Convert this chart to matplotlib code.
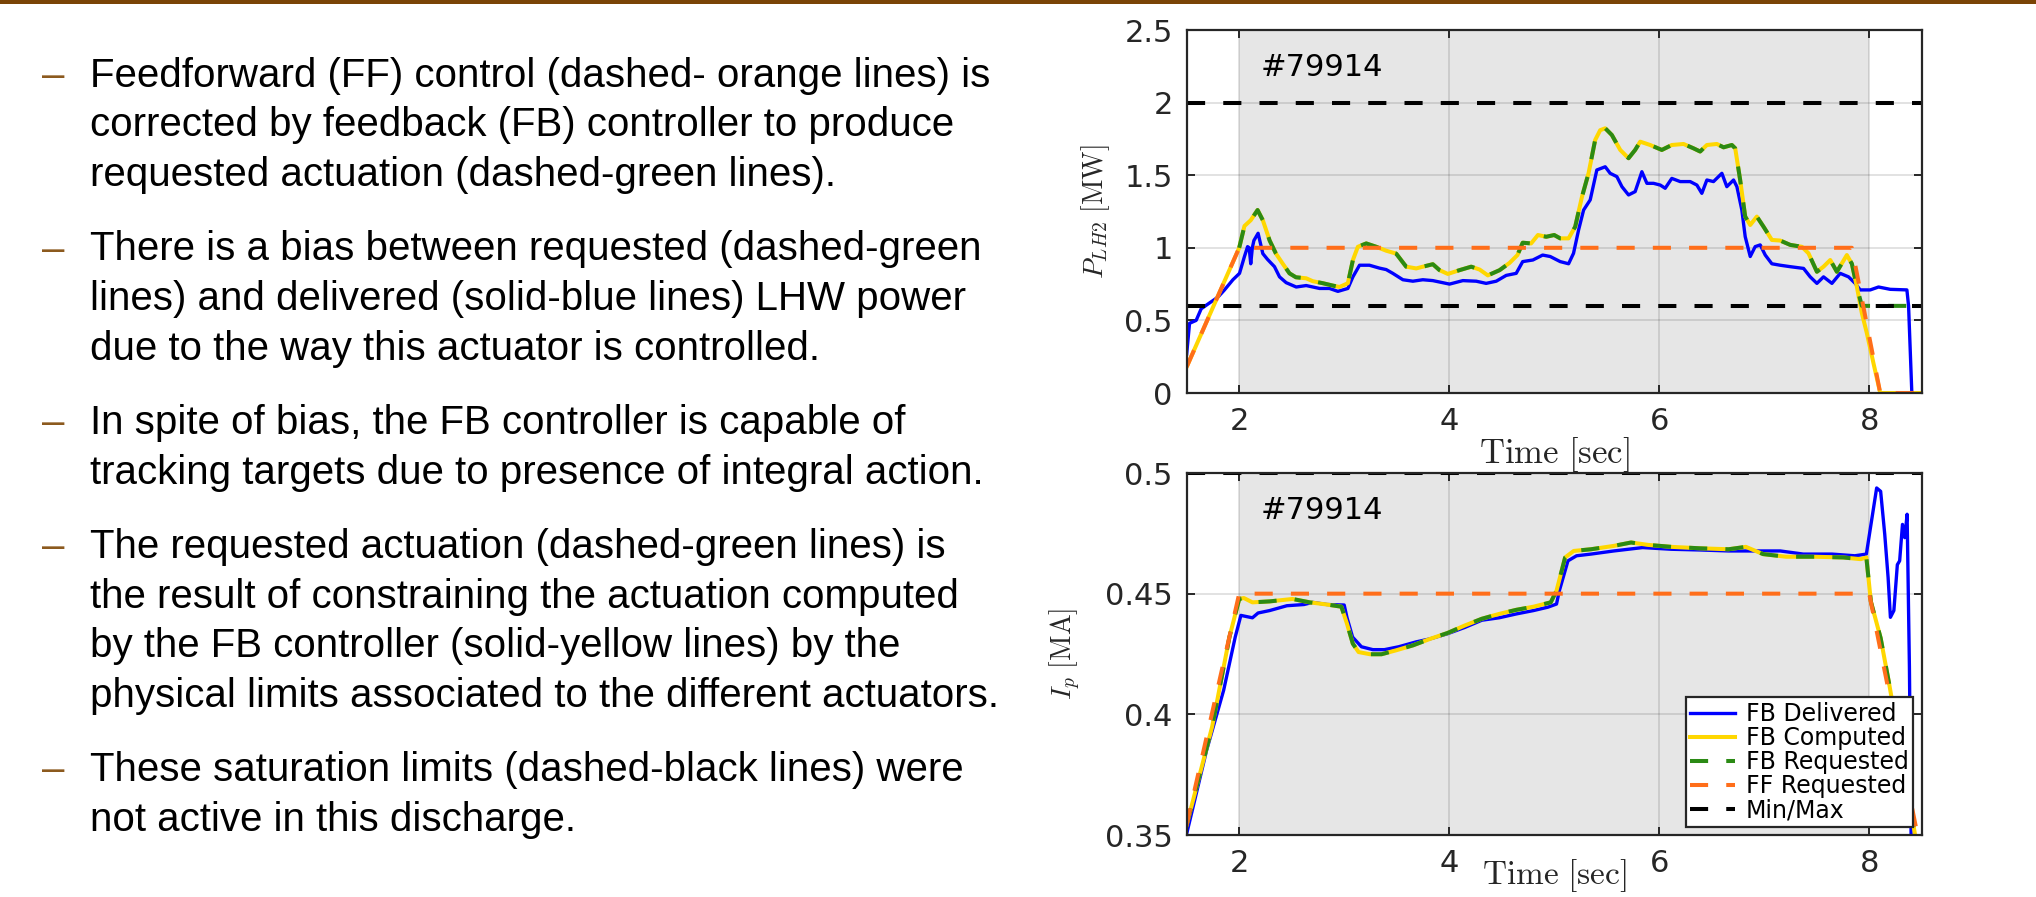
import matplotlib
matplotlib.use("Agg")
import matplotlib.pyplot as plt
from matplotlib.patches import Rectangle

plt.rcParams["mathtext.fontset"] = "cm"

##
# Data
##

# top panel: LHW power P_LH2 [MW]
t_del_top = [1.50, 1.527, 1.59, 1.638, 1.717, 1.797, 1.86, 1.94, 2.003, 2.05,
             2.08, 2.095, 2.11, 2.125, 2.14, 2.18, 2.225, 2.27, 2.336, 2.384,
             2.447, 2.543, 2.638, 2.765, 2.86, 2.94, 3.035, 3.083, 3.146, 3.24,
             3.336, 3.40, 3.463, 3.559, 3.654, 3.749, 3.844, 4.003, 4.13, 4.257,
             4.352, 4.448, 4.543, 4.638, 4.70, 4.797, 4.89, 4.962, 5.057, 5.137,
             5.184, 5.232, 5.28, 5.343, 5.406, 5.486, 5.533, 5.597, 5.645, 5.708,
             5.771, 5.835, 5.883, 5.946, 6.01, 6.057, 6.12, 6.2, 6.295, 6.359,
             6.406, 6.454, 6.517, 6.597, 6.644, 6.708, 6.74, 6.787, 6.819, 6.867,
             6.914, 6.962, 7.01, 7.073, 7.152, 7.248, 7.375, 7.438, 7.502, 7.565,
             7.645, 7.724, 7.803, 7.867, 7.914, 8.01, 8.089, 8.2, 8.359, 8.375,
             8.406]
p_del_top = [0.27, 0.48, 0.50, 0.58, 0.62, 0.66, 0.71, 0.78, 0.824, 0.94,
             1.008, 1.0, 0.89, 1.0, 1.05, 1.10, 0.96, 0.92, 0.87, 0.80,
             0.76, 0.73, 0.74, 0.72, 0.72, 0.70, 0.72, 0.80, 0.88, 0.88,
             0.86, 0.85, 0.824, 0.78, 0.77, 0.78, 0.774, 0.75, 0.774, 0.77,
             0.755, 0.77, 0.81, 0.824, 0.905, 0.916, 0.95, 0.94, 0.905, 0.89,
             0.962, 1.122, 1.26, 1.33, 1.536, 1.558, 1.513, 1.49, 1.421, 1.364,
             1.387, 1.524, 1.444, 1.444, 1.432, 1.41, 1.478, 1.456, 1.456, 1.432,
             1.375, 1.467, 1.456, 1.513, 1.421, 1.467, 1.421, 1.26, 1.077, 0.94,
             1.008, 1.02, 0.95, 0.89, 0.88, 0.87, 0.858, 0.80, 0.755, 0.80,
             0.755, 0.824, 0.80, 0.755, 0.71, 0.71, 0.73, 0.714, 0.71, 0.6,
             0.0]

t_comp_top = [1.50, 2.0, 2.05, 2.11, 2.175, 2.225, 2.29, 2.35, 2.415, 2.479,
              2.54, 2.638, 2.70, 2.797, 2.89, 2.955, 3.035, 3.083, 3.13, 3.21,
              3.305, 3.40, 3.495, 3.59, 3.686, 3.75, 3.844, 3.908, 3.987, 4.098,
              4.21, 4.29, 4.368, 4.48, 4.575, 4.65, 4.70, 4.78, 4.845, 4.924,
              5.0, 5.057, 5.137, 5.2, 5.264, 5.327, 5.39, 5.438, 5.486, 5.549,
              5.629, 5.708, 5.771, 5.819, 5.914, 6.025, 6.12, 6.232, 6.327, 6.39,
              6.454, 6.549, 6.613, 6.692, 6.724, 6.771, 6.819, 6.867, 6.93, 6.994,
              7.073, 7.152, 7.248, 7.359, 7.422, 7.502, 7.565, 7.629, 7.692, 7.787,
              7.835, 7.883, 7.93, 7.978, 8.041, 8.105, 8.50]
p_comp_top = [0.18, 1.0, 1.15, 1.19, 1.26, 1.19, 1.05, 0.96, 0.89, 0.824,
              0.797, 0.79, 0.77, 0.756, 0.74, 0.73, 0.756, 0.916, 1.007, 1.03,
              1.007, 0.98, 0.96, 0.87, 0.858, 0.87, 0.887, 0.846, 0.82, 0.846,
              0.87, 0.85, 0.81, 0.846, 0.896, 0.95, 1.035, 1.03, 1.088, 1.076,
              1.088, 1.065, 1.065, 1.145, 1.35, 1.513, 1.742, 1.81, 1.823, 1.777,
              1.674, 1.617, 1.674, 1.731, 1.708, 1.674, 1.708, 1.715, 1.685, 1.663,
              1.708, 1.715, 1.692, 1.708, 1.685, 1.467, 1.215, 1.157, 1.215, 1.145,
              1.054, 1.05, 1.02, 1.007, 0.962, 0.835, 0.87, 0.916, 0.835, 0.95,
              0.89, 0.73, 0.55, 0.411, 0.204, 0.0, 0.0]

# requested follows computed from 2 s on, then sits on the lower limit
req_tail_t_top = [7.93, 8.42]
req_tail_top = [0.6, 0.6]

t_ff_top = [1.50, 2.0, 7.835, 8.105, 8.50]
p_ff_top = [0.18, 1.0, 1.0, 0.0, 0.0]
limits_top = [0.6, 2.0]

# bottom panel: plasma current I_p [MA]
t_del_bot = [1.497, 1.689, 1.852, 1.962, 2.016, 2.126, 2.18, 2.29, 2.454, 2.617,
             2.70, 2.836, 3.0, 3.027, 3.08, 3.164, 3.273, 3.383, 3.519, 3.683,
             3.82, 3.984, 4.148, 4.311, 4.475, 4.639, 4.803, 4.94, 5.022, 5.049,
             5.131, 5.213, 5.35, 5.568, 5.842, 6.115, 6.388, 6.661, 6.934, 7.153,
             7.372, 7.645, 7.863, 7.973, 8.027, 8.071, 8.109, 8.148, 8.18, 8.202,
             8.235, 8.268, 8.29, 8.317, 8.339, 8.361, 8.383, 8.399]
ip_del_bot = [0.350, 0.385, 0.410, 0.432, 0.441, 0.440, 0.442, 0.443, 0.445, 0.4455,
              0.4464, 0.4455, 0.4453, 0.440, 0.432, 0.428, 0.4268, 0.4268, 0.428, 0.430,
              0.4313, 0.4334, 0.436, 0.439, 0.440, 0.4416, 0.443, 0.4444, 0.4457, 0.4512,
              0.4636, 0.4657, 0.4664, 0.4677, 0.4691, 0.4684, 0.4681, 0.4677, 0.4677, 0.4677,
              0.4664, 0.4664, 0.4657, 0.4664, 0.4815, 0.4938, 0.4924, 0.4746, 0.4567, 0.4402,
              0.443, 0.462, 0.4636, 0.4787, 0.4732, 0.4829, 0.4196, 0.35]

t_comp_bot = [1.497, 1.743, 1.907, 2.0, 2.044, 2.126, 2.29, 2.508, 2.672, 2.836,
              2.973, 3.027, 3.082, 3.137, 3.246, 3.355, 3.492, 3.656, 3.82, 3.984,
              4.148, 4.311, 4.475, 4.639, 4.803, 4.967, 5.022, 5.104, 5.186, 5.35,
              5.568, 5.732, 5.896, 6.115, 6.388, 6.661, 6.825, 6.989, 7.208, 7.481,
              7.754, 7.918, 7.973, 8.016, 8.109, 8.191, 8.355, 8.437]
ip_comp_bot = [0.3537, 0.395, 0.432, 0.4478, 0.4482, 0.4464, 0.4468, 0.4478, 0.4464, 0.4455,
               0.4446, 0.4375, 0.4293, 0.4258, 0.4249, 0.4249, 0.4265, 0.4286, 0.4313, 0.4337,
               0.4368, 0.4396, 0.4416, 0.4433, 0.4446, 0.4464, 0.4512, 0.465, 0.4677, 0.4684,
               0.4698, 0.4712, 0.4702, 0.4694, 0.4688, 0.4684, 0.4694, 0.4664, 0.4653, 0.4653,
               0.465, 0.4643, 0.465, 0.4467, 0.4316, 0.4124, 0.3716, 0.35]

t_ff_bot = [1.497, 2.0, 8.0, 8.46]
ip_ff_bot = [0.3537, 0.45, 0.45, 0.35]
limits_bot = [0.3, 0.5]

shot = "#79914"
shade = (2, 8)

bullets = [
    ["Feedforward (FF) control (dashed- orange lines) is",
     "corrected by feedback (FB) controller to produce",
     "requested actuation (dashed-green lines)."],
    ["There is a bias between requested (dashed-green",
     "lines) and delivered (solid-blue lines) LHW power",
     "due to the way this actuator is controlled."],
    ["In spite of bias, the FB controller is capable of",
     "tracking targets due to presence of integral action."],
    ["The requested actuation (dashed-green lines) is",
     "the result of constraining the actuation computed",
     "by the FB controller (solid-yellow lines) by the",
     "physical limits associated to the different actuators."],
    ["These saturation limits (dashed-black lines) were",
     "not active in this discharge."],
]

##
# Figure
##
W, H = 2036, 897
fig = plt.figure(figsize=(W / 100, H / 100), dpi=100)

# brown bar on top of the slide
fig.add_artist(Rectangle((0, 1 - 4 / H), 1, 4 / H, transform=fig.transFigure,
                         color="#7a4406", lw=0))

# bullet text
y = 87
for block in bullets:
    fig.text(42 / W, 1 - y / H, "\u2013", fontsize=29, color="#8c5a1e",
             family="Liberation Sans", va="baseline")
    for line in block:
        fig.text(90 / W, 1 - y / H, line, fontsize=29, color="black",
                 family="Liberation Sans", va="baseline")
        y += 49.5
    y += 25

blue = "#0000ff"
yellow = "#ffd700"
green = "#2b8a14"
orange = "#ff6e1a"
dash = (4.5, 4.5)


def style_axes(ax):
    ax.axvspan(shade[0], shade[1], color="#e6e6e6", lw=0, zorder=0.5)
    ax.grid(True, color="#262626", alpha=0.15, linewidth=1.3)
    ax.set_xlim(1.5, 8.5)
    ax.set_xticks([2, 4, 6, 8])
    for s in ax.spines.values():
        s.set_linewidth(1.6)
        s.set_color("#262626")
        s.set_zorder(5)
    ax.tick_params(direction="in", length=6, width=1.4, top=True, right=True,
                   labelsize=22, colors="#262626")
    ax.tick_params(axis="x", pad=10)
    ax.tick_params(axis="y", pad=10)
    ax.text(0.101, 0.897, shot, transform=ax.transAxes, fontsize=22,
            va="center", color="black")


# top panel
ax1 = fig.add_axes([1186.7 / W, (H - 393) / H, 735 / W, 363 / H])
style_axes(ax1)
ax1.plot(t_del_top, p_del_top, color=blue, lw=2.4)
ax1.plot(t_comp_top, p_comp_top, color=yellow, lw=2.9)
req_t = [t for t in t_comp_top if 2.0 <= t <= 7.9] + req_tail_t_top
req_p = [p for t, p in zip(t_comp_top, p_comp_top) if 2.0 <= t <= 7.9] + req_tail_top
ax1.plot(req_t, req_p, color=green, lw=2.9, dashes=dash)
ax1.plot(t_ff_top, p_ff_top, color=orange, lw=2.9, dashes=dash)
for lim in limits_top:
    ax1.axhline(lim, color="black", lw=2.9, dashes=dash)
ax1.set_ylim(0, 2.5)
ax1.set_yticks([0, 0.5, 1, 1.5, 2, 2.5])
ax1.set_yticklabels(["0", "0.5", "1", "1.5", "2", "2.5"])
ax1.set_xlabel(r"$\mathrm{Time\ [sec]}$", fontsize=25, color="#262626")
ax1.set_ylabel(r"$P_{LH2}\ \mathrm{[MW]}$", fontsize=20, color="#262626")
ax1.xaxis.set_label_coords(0.5, -0.115)
ax1.yaxis.set_label_coords(-0.102, 0.5)

# bottom panel
ax2 = fig.add_axes([1186.7 / W, (H - 835) / H, 735 / W, 362 / H])
style_axes(ax2)
ax2.plot(t_del_bot, ip_del_bot, color=blue, lw=2.4, label="FB Delivered")
ax2.plot(t_comp_bot, ip_comp_bot, color=yellow, lw=2.9, label="FB Computed")
ax2.plot(t_comp_bot, ip_comp_bot, color=green, lw=2.9, dashes=dash, label="FB Requested")
ax2.plot(t_ff_bot, ip_ff_bot, color=orange, lw=2.9, dashes=dash, label="FF Requested")
for i, lim in enumerate(limits_bot):
    ax2.axhline(lim, color="black", lw=2.9, dashes=dash,
                label="Min/Max" if i == 0 else None)
ax2.set_ylim(0.35, 0.5)
ax2.set_yticks([0.35, 0.4, 0.45, 0.5])
ax2.set_yticklabels(["0.35", "0.4", "0.45", "0.5"])
# kept a bit higher than on the slide so it is not cut by the edge
ax2.set_xlabel(r"$\mathrm{Time\ [sec]}$", fontsize=24, color="#262626")
ax2.set_ylabel(r"$I_p\ \mathrm{[MA]}$", fontsize=20, color="#262626")
ax2.xaxis.set_label_coords(0.5, -0.06)
ax2.yaxis.set_label_coords(-0.141, 0.5)

leg = ax2.legend(loc="lower right", fontsize=17, fancybox=False, framealpha=1,
                 edgecolor="#262626", borderpad=0.2, labelspacing=0.0,
                 handlelength=1.9, handletextpad=0.45, borderaxespad=0.35)
leg.get_frame().set_linewidth(1.6)
leg.set_zorder(10)

fig.savefig("out.png", dpi=100)
